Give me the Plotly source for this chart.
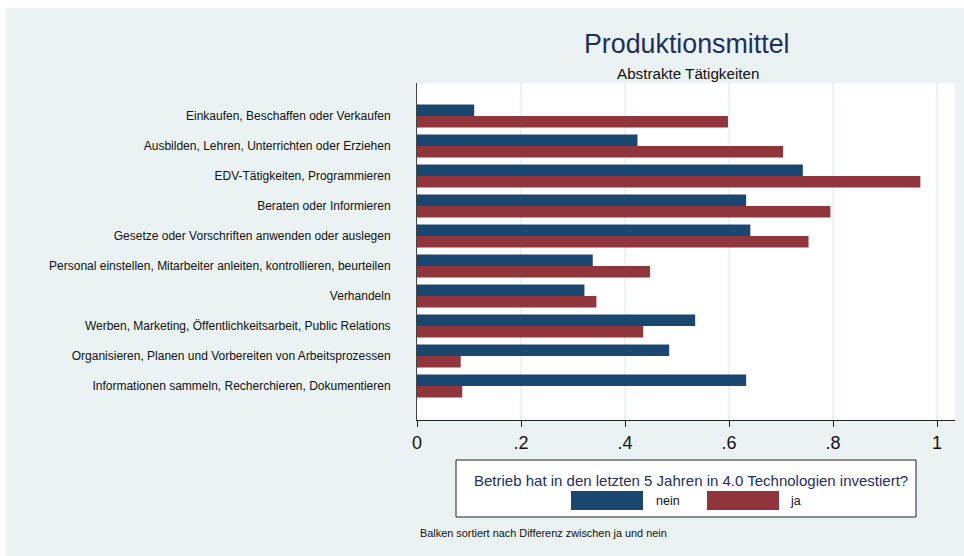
import plotly.graph_objects as go

# Tätigkeiten (oben nach unten), sortiert nach Differenz ja - nein
categories = [
    "Einkaufen, Beschaffen oder Verkaufen",
    "Ausbilden, Lehren, Unterrichten oder Erziehen",
    "EDV-Tätigkeiten, Programmieren",
    "Beraten oder Informieren",
    "Gesetze oder Vorschriften anwenden oder auslegen",
    "Personal einstellen, Mitarbeiter anleiten, kontrollieren, beurteilen",
    "Verhandeln",
    "Werben, Marketing, Öffentlichkeitsarbeit, Public Relations",
    "Organisieren, Planen und Vorbereiten von Arbeitsprozessen",
    "Informationen sammeln, Recherchieren, Dokumentieren",
]
nein_values = [0.110, 0.424, 0.742, 0.633, 0.641, 0.338, 0.322, 0.535, 0.485, 0.633]
ja_values = [0.598, 0.704, 0.968, 0.795, 0.753, 0.448, 0.345, 0.435, 0.084, 0.087]

x_tickvals = [0, 0.2, 0.4, 0.6, 0.8, 1.0]
x_ticktext = ["0", ".2", ".4", ".6", ".8", "1"]

series_names = ["nein", "ja"]
legend_title = "Betrieb hat in den letzten 5 Jahren in 4.0 Technologien investiert?"
title_text = "Produktionsmittel"
subtitle_text = "Abstrakte Tätigkeiten"
note_text = "Balken sortiert nach Differenz zwischen ja und nein"

NAVY = "#1a476f"
MAROON = "#90353b"
PANEL = "#eaf2f3"
TITLE_COL = "#1e2f5c"
FONT = "Liberation Sans, Arial, sans-serif"

W, H = 964, 556
L, R, T, B = 417, 9, 83, 136
PW, PH = W - L - R, H - T - B


def px(x):
    """Pixel x -> paper x."""
    return (x - L) / PW


def py(y):
    """Pixel y (from top) -> paper y."""
    return (H - B - y) / PH


fig = go.Figure()
fig.add_trace(go.Bar(y=categories, x=nein_values, name=series_names[0], orientation="h",
                     marker=dict(color=NAVY, line=dict(width=0)), showlegend=False))
fig.add_trace(go.Bar(y=categories, x=ja_values, name=series_names[1], orientation="h",
                     marker=dict(color=MAROON, line=dict(width=0)), showlegend=False))

shapes = [
    # light outer panel
    dict(type="rect", xref="paper", yref="paper", x0=px(6), x1=px(W + 2), y0=py(H + 2), y1=py(8),
         fillcolor=PANEL, line=dict(width=0), layer="below"),
    # white plot region
    dict(type="rect", xref="paper", yref="paper", x0=0, x1=1, y0=0, y1=1,
         fillcolor="white", line=dict(width=0), layer="below"),
    # legend box
    dict(type="rect", xref="paper", yref="paper", x0=px(456), x1=px(916), y0=py(517), y1=py(460),
         fillcolor="white", line=dict(color="#222222", width=1)),
    # legend swatches
    dict(type="rect", xref="paper", yref="paper", x0=px(571), x1=px(643), y0=py(510), y1=py(491),
         fillcolor=NAVY, line=dict(width=0)),
    dict(type="rect", xref="paper", yref="paper", x0=px(707), x1=px(779), y0=py(510), y1=py(491),
         fillcolor=MAROON, line=dict(width=0)),
]

annotations = [
    dict(text=title_text, xref="paper", yref="paper", x=px(687), y=py(44), showarrow=False,
         xanchor="center", yanchor="middle", font=dict(family=FONT, size=26.8, color=TITLE_COL)),
    dict(text=subtitle_text, xref="paper", yref="paper", x=px(688), y=py(73), showarrow=False,
         xanchor="center", yanchor="middle", font=dict(family=FONT, size=15.2, color="#111111")),
    dict(text=legend_title, xref="paper", yref="paper", x=px(690.5), y=py(480), showarrow=False,
         xanchor="center", yanchor="middle", font=dict(family=FONT, size=15.0, color=TITLE_COL)),
    dict(text=series_names[0], xref="paper", yref="paper", x=px(654), y=py(501), showarrow=False,
         xanchor="left", yanchor="middle", font=dict(family=FONT, size=12.5, color="#111111")),
    dict(text=series_names[1], xref="paper", yref="paper", x=px(788), y=py(501), showarrow=False,
         xanchor="left", yanchor="middle", font=dict(family=FONT, size=12.5, color="#111111")),
    dict(text=note_text, xref="paper", yref="paper", x=px(418), y=py(533), showarrow=False,
         xanchor="left", yanchor="middle", font=dict(family=FONT, size=10.9, color="#111111")),
]

fig.update_layout(
    width=W, height=H,
    margin=dict(l=L, r=R, t=T, b=B, pad=0),
    paper_bgcolor="white",
    plot_bgcolor="rgba(0,0,0,0)",
    barmode="group",
    bargap=0.233,
    bargroupgap=0,
    showlegend=False,
    shapes=shapes,
    annotations=annotations,
    font=dict(family=FONT, color="#111111"),
    xaxis=dict(
        range=[0, (W - R - L) / 520],
        tickvals=x_tickvals, ticktext=x_ticktext,
        ticks="outside", ticklen=6, tickwidth=1, tickcolor="#222222",
        tickfont=dict(family=FONT, size=18, color="#111111"),
        showgrid=True, gridcolor=PANEL, gridwidth=1.5,
        showline=True, linecolor="#222222", linewidth=1,
        zeroline=False, fixedrange=True,
    ),
    yaxis=dict(
        categoryorder="array", categoryarray=categories,
        range=[10.13, -1.1],
        ticks="", ticklabelstandoff=23,
        tickfont=dict(family=FONT, size=12, color="#111111"),
        showgrid=False, zeroline=False,
        showline=True, linecolor="#444444", linewidth=1,
        fixedrange=True,
    ),
)

fig.write_html("out.html")
